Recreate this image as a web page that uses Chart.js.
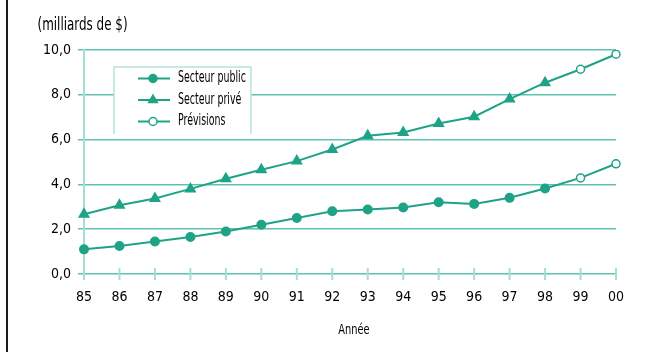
<!DOCTYPE html>
<html>
<head>
<meta charset="utf-8">
<script src="https://cdn.jsdelivr.net/npm/chart.js@4"></script>
<style>
    body { margin: 0; background: #fff; }
    #wrap { position: relative; width: 656px; height: 352px; }
    #edge { position: absolute; left: 6px; top: 0; width: 2px; height: 352px; background: #1a1a1a; }
</style>
</head>
<body>
<div id="wrap">
    <canvas id="chart" width="656" height="352"></canvas>
    <div id="edge"></div>
</div>
<script>
"use strict";

const years = ['85', '86', '87', '88', '89', '90', '91', '92', '93', '94', '95', '96', '97', '98', '99', '00'];
// valeurs réelles 85-98
const publicVals = [1.1, 1.25, 1.45, 1.65, 1.9, 2.2, 2.5, 2.8, 2.88, 2.97, 3.2, 3.13, 3.4, 3.82];
const priveVals = [2.67, 3.07, 3.37, 3.8, 4.25, 4.65, 5.04, 5.56, 6.17, 6.32, 6.72, 7.02, 7.81, 8.54];
// prévisions 99-00
const publicPrev = [4.29, 4.92];
const privePrev = [9.14, 9.81];
const yTicks = [0, 2, 4, 6, 8, 10];

const TEAL = '#1fa386';
const GRID = '#5fc2b0';
const LIGHT = '#a8ddd2';
const FONT = "'DejaVu Sans Condensed', 'DejaVu Sans', sans-serif";

// la série prévision repart du dernier point réel (98)
const pad = n => new Array(n).fill(null);
const publicPrevData = pad(publicVals.length - 1).concat([publicVals[publicVals.length - 1]], publicPrev);
const privePrevData = pad(priveVals.length - 1).concat([priveVals[priveVals.length - 1]], privePrev);
const prevRadius = publicPrevData.map((v, i) => i >= publicVals.length ? 4 : 0);

const legendItems = [
    { label: 'Secteur public', style: 'circle', fill: TEAL },
    { label: 'Secteur privé', style: 'triangle', fill: TEAL },
    { label: 'Prévisions', style: 'circle', fill: '#fff' },
];

function drawMarker(ctx, style, x, y, fill) {
    ctx.save();
    ctx.fillStyle = fill;
    ctx.strokeStyle = TEAL;
    ctx.lineWidth = 1.5;
    ctx.beginPath();
    if (style === 'triangle') {
        const r = 5;
        ctx.moveTo(x, y - r);
        ctx.lineTo(x + r * 0.866, y + r * 0.5);
        ctx.lineTo(x - r * 0.866, y + r * 0.5);
        ctx.closePath();
    } else {
        ctx.arc(x, y, 4, 0, Math.PI * 2);
    }
    ctx.fill();
    ctx.stroke();
    ctx.restore();
}

// texte condensé (la police d'origine est très étroite)
function narrowText(ctx, text, x, y, sx) {
    ctx.save();
    ctx.translate(x, y);
    ctx.scale(sx, 1);
    ctx.fillText(text, 0, 0);
    ctx.restore();
}

const decor = {
    id: 'decor',
    afterDraw(chart) {
        const ctx = chart.ctx;
        const area = chart.chartArea;
        const x = chart.scales.x;

        // petites graduations de l'axe des x
        ctx.save();
        ctx.strokeStyle = LIGHT;
        ctx.lineWidth = 2;
        x.ticks.forEach((t, i) => {
            const px = x.getPixelForTick(i);
            ctx.beginPath();
            ctx.moveTo(px, area.bottom - 6);
            ctx.lineTo(px, area.bottom + 6);
            ctx.stroke();
        });
        ctx.restore();

        // titre de l'axe des y
        ctx.save();
        ctx.fillStyle = '#000';
        ctx.font = '17px ' + FONT;
        ctx.textBaseline = 'middle';
        narrowText(ctx, '(milliards de $)', 37.5, 26, 0.78);
        ctx.restore();

        // légende
        const bx = 114, by = 67, bw = 137, bh = 67;
        ctx.save();
        ctx.fillStyle = '#fff';
        ctx.fillRect(bx, by, bw, bh);
        ctx.strokeStyle = '#b5e3da';
        ctx.lineWidth = 1.5;
        ctx.beginPath();
        ctx.moveTo(bx, by + bh);
        ctx.lineTo(bx, by);
        ctx.lineTo(bx + bw, by);
        ctx.lineTo(bx + bw, by + bh);
        ctx.stroke();
        ctx.font = '15px ' + FONT;
        ctx.textBaseline = 'middle';
        legendItems.forEach((it, i) => {
            const ly = 78.5 + i * 21.5;
            ctx.strokeStyle = TEAL;
            ctx.lineWidth = 2;
            ctx.beginPath();
            ctx.moveTo(138, ly);
            ctx.lineTo(170, ly);
            ctx.stroke();
            drawMarker(ctx, it.style, 153, ly, it.fill);
            ctx.fillStyle = '#000';
            narrowText(ctx, it.label, 178, ly, 0.7);
        });
        ctx.restore();

        // titre de l'axe des x
        ctx.save();
        ctx.fillStyle = '#000';
        ctx.font = '14px ' + FONT;
        ctx.textBaseline = 'middle';
        ctx.textAlign = 'center';
        narrowText(ctx, 'Année', 354, 330, 0.78);
        ctx.restore();
    }
};

const ctx = document.getElementById('chart').getContext('2d');
const chart = new Chart(ctx, {
    type: 'line',
    data: {
        labels: years,
        datasets: [
            {
                label: 'Secteur public',
                data: publicVals,
                borderColor: TEAL,
                backgroundColor: TEAL,
                borderWidth: 2,
                pointStyle: 'circle',
                pointRadius: 4,
                tension: 0,
            },
            {
                label: 'Secteur privé',
                data: priveVals,
                borderColor: TEAL,
                backgroundColor: TEAL,
                borderWidth: 2,
                pointStyle: 'triangle',
                pointRadius: 5,
                tension: 0,
            },
            {
                label: 'Prévisions',
                data: publicPrevData,
                borderColor: TEAL,
                backgroundColor: '#fff',
                borderWidth: 2,
                pointBorderWidth: 1.5,
                pointRadius: prevRadius,
                tension: 0,
            },
            {
                label: 'Prévisions privé',
                data: privePrevData,
                borderColor: TEAL,
                backgroundColor: '#fff',
                borderWidth: 2,
                pointBorderWidth: 1.5,
                pointRadius: prevRadius,
                tension: 0,
            },
        ]
    },
    options: {
        responsive: false,
        animation: false,
        layout: {
            padding: { left: 0, right: 40, top: 50, bottom: 0 }
        },
        plugins: {
            legend: { display: false },
            tooltip: { enabled: false },
        },
        scales: {
            x: {
                grid: { display: false },
                border: { display: false },
                ticks: {
                    color: '#000',
                    font: { family: FONT, size: 14 },
                    padding: 7,
                    maxRotation: 0,
                },
                afterFit: scale => { scale.height = 78; },
            },
            y: {
                min: 0,
                max: 10,
                afterBuildTicks: scale => { scale.ticks = yTicks.map(v => ({ value: v })); },
                grid: {
                    color: GRID,
                    lineWidth: 1.5,
                    tickLength: 6,
                },
                border: { display: true, color: LIGHT, width: 2 },
                ticks: {
                    color: '#000',
                    font: { family: FONT, size: 14 },
                    padding: 7,
                    callback: v => v.toFixed(1).replace('.', ','),
                },
                afterFit: scale => { scale.width = 84; },
            }
        }
    },
    plugins: [decor]
});
</script>
</body>
</html>
